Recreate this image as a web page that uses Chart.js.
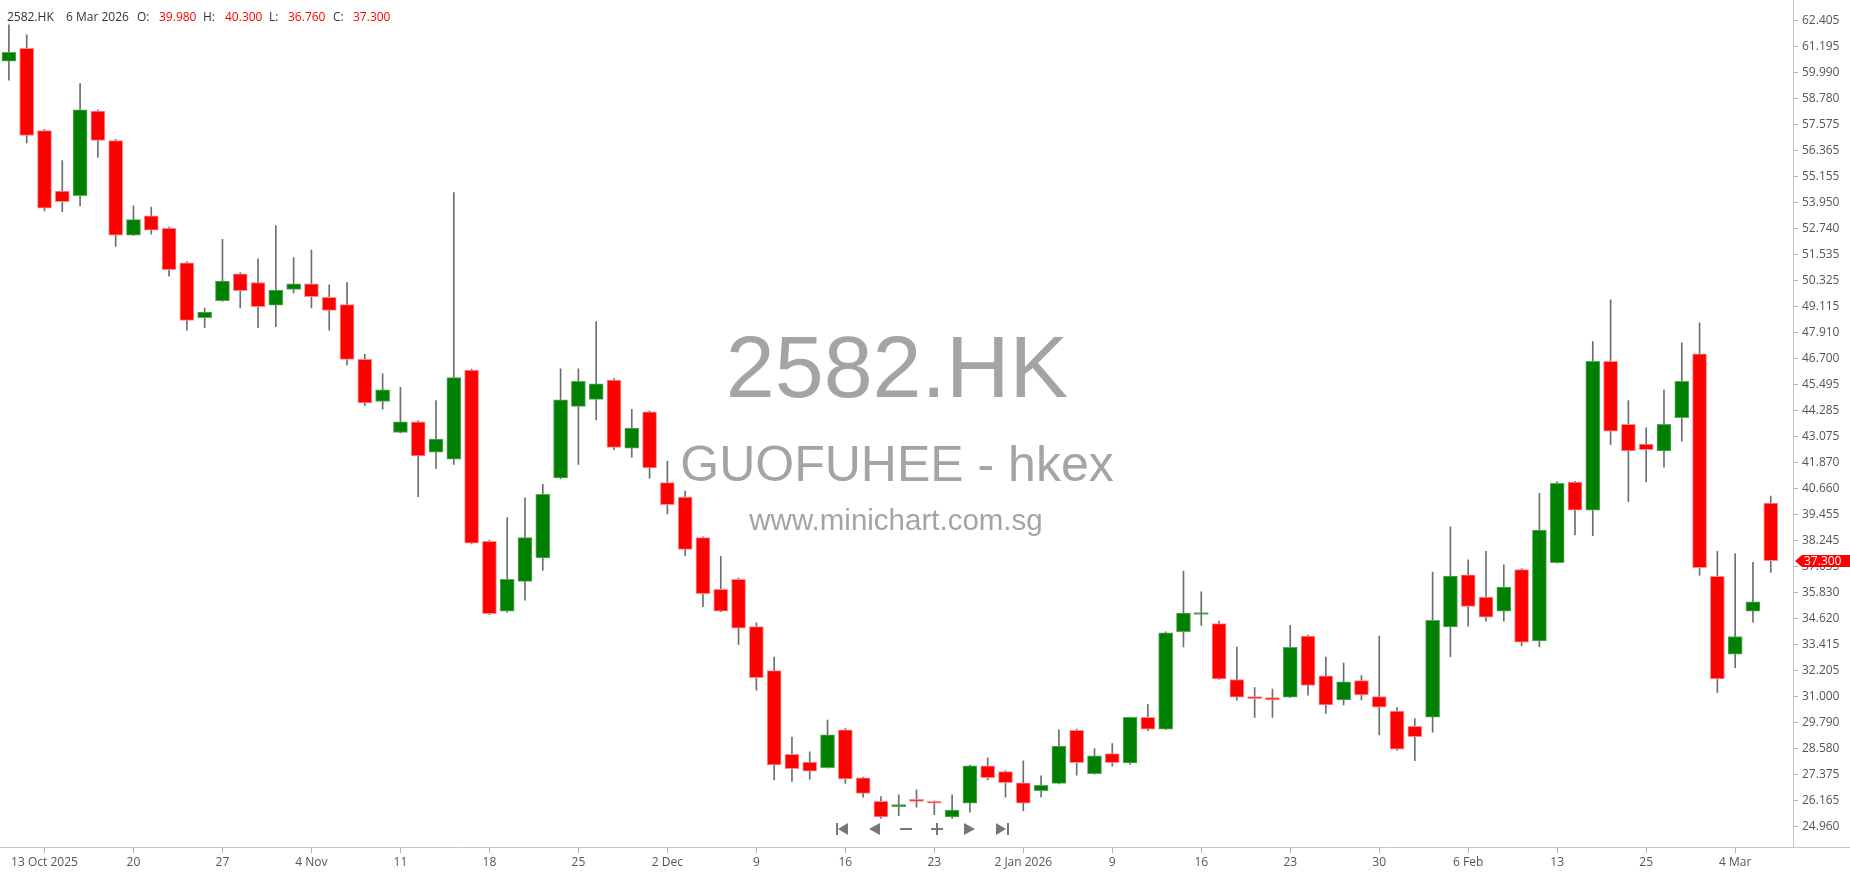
<!DOCTYPE html>
<html lang="en">
<head>
<meta charset="UTF-8">
<title>2582.HK</title>
<script src="https://cdn.jsdelivr.net/npm/chart.js"></script>
<style>
  body {
      margin: 0;
      padding: 0;
      background: #fff;
      overflow: hidden;
  }
  #wrap {
      position: relative;
      width: 1850px;
      height: 874px;
  }
</style>
</head>
<body>
<div id="wrap"><canvas id="chart" width="1850" height="874"></canvas></div>

<script>
  const symbol = "2582.HK";
  const company = "GUOFUHEE - hkex";
  const site = "www.minichart.com.sg";

  const tradeDates = [
    '2025-10-09','2025-10-10','2025-10-13','2025-10-14','2025-10-15','2025-10-16','2025-10-17','2025-10-20','2025-10-21','2025-10-22',
    '2025-10-23','2025-10-24','2025-10-27','2025-10-28','2025-10-30','2025-10-31','2025-11-03','2025-11-04','2025-11-05','2025-11-06',
    '2025-11-07','2025-11-10','2025-11-11','2025-11-12','2025-11-13','2025-11-14','2025-11-17','2025-11-18','2025-11-19','2025-11-20',
    '2025-11-21','2025-11-24','2025-11-25','2025-11-26','2025-11-27','2025-11-28','2025-12-01','2025-12-02','2025-12-03','2025-12-04',
    '2025-12-05','2025-12-08','2025-12-09','2025-12-10','2025-12-11','2025-12-12','2025-12-15','2025-12-16','2025-12-17','2025-12-18',
    '2025-12-19','2025-12-22','2025-12-23','2025-12-24','2025-12-29','2025-12-30','2025-12-31','2026-01-02','2026-01-05','2026-01-06',
    '2026-01-07','2026-01-08','2026-01-09','2026-01-12','2026-01-13','2026-01-14','2026-01-15','2026-01-16','2026-01-19','2026-01-20',
    '2026-01-21','2026-01-22','2026-01-23','2026-01-26','2026-01-27','2026-01-28','2026-01-29','2026-01-30','2026-02-02','2026-02-03',
    '2026-02-04','2026-02-05','2026-02-06','2026-02-09','2026-02-10','2026-02-11','2026-02-12','2026-02-13','2026-02-16','2026-02-20',
    '2026-02-23','2026-02-24','2026-02-25','2026-02-26','2026-02-27','2026-03-02','2026-03-03','2026-03-04','2026-03-05','2026-03-06'
  ];

  const openPrices = [
    60.51, 61.11, 57.29, 54.48, 54.26, 58.19, 56.82, 52.43, 53.33, 52.75,
    51.14, 48.59, 49.39, 50.63, 50.23, 49.17, 49.91, 50.17, 49.54, 49.20,
    46.66, 44.70, 43.26, 43.76, 42.34, 42.02, 46.16, 38.20, 34.96, 36.34,
    37.43, 41.15, 44.47, 44.80, 45.70, 42.53, 44.22, 40.93, 40.26, 38.37,
    35.97, 36.43, 34.24, 32.19, 28.30, 27.94, 27.68, 29.44, 27.21, 26.12,
    25.87, 26.20, 26.12, 25.39, 26.03, 27.77, 27.50, 26.98, 26.61, 26.95,
    29.42, 27.40, 28.34, 27.90, 30.02, 29.47, 34.00, 34.80, 34.38, 31.78,
    30.99, 30.94, 30.96, 33.80, 31.95, 30.83, 31.73, 30.99, 30.31, 29.61,
    30.03, 34.22, 36.65, 35.61, 34.96, 36.89, 33.57, 37.21, 40.95, 39.65,
    46.56, 43.64, 42.72, 42.40, 43.95, 46.91, 36.58, 32.96, 34.96, 39.98
  ];
  const highPrices = [
    62.20, 61.74, 57.35, 55.90, 59.47, 58.25, 56.88, 53.79, 53.73, 52.80,
    51.19, 49.04, 52.24, 50.69, 51.33, 52.87, 51.39, 51.73, 50.12, 50.23,
    46.89, 45.99, 45.36, 43.80, 44.74, 54.41, 46.21, 38.26, 39.30, 40.22,
    40.85, 46.22, 46.22, 48.41, 45.76, 44.33, 44.27, 41.93, 40.54, 38.41,
    37.51, 36.49, 34.41, 32.82, 29.11, 28.42, 29.90, 29.50, 27.25, 26.34,
    26.42, 26.65, 26.14, 26.42, 27.80, 28.14, 27.55, 28.00, 27.31, 29.44,
    29.48, 28.57, 28.80, 30.04, 30.63, 34.00, 36.82, 35.86, 34.49, 33.29,
    31.40, 31.34, 34.30, 33.85, 32.82, 32.54, 31.96, 33.80, 30.47, 29.96,
    36.77, 38.88, 37.34, 37.74, 37.11, 36.94, 40.43, 40.98, 40.99, 47.48,
    49.42, 44.74, 43.47, 45.24, 47.42, 48.35, 37.74, 37.63, 37.22, 40.30
  ];
  const lowPrices = [
    59.63, 56.72, 53.56, 53.52, 53.79, 56.04, 51.91, 52.40, 52.47, 50.52,
    48.01, 48.13, 49.35, 49.05, 48.13, 48.18, 49.74, 49.05, 48.01, 46.40,
    44.51, 44.34, 43.24, 40.28, 41.59, 41.78, 38.08, 34.79, 34.91, 35.47,
    36.85, 41.10, 41.78, 43.84, 42.46, 42.11, 41.14, 39.47, 37.53, 35.17,
    34.93, 33.40, 31.28, 27.11, 27.05, 27.15, 27.66, 26.95, 26.31, 25.32,
    25.45, 25.85, 25.50, 25.32, 25.62, 27.11, 26.31, 25.68, 26.31, 26.93,
    27.34, 27.38, 27.75, 27.84, 29.40, 29.45, 33.29, 34.29, 31.78, 30.82,
    30.02, 30.02, 30.94, 31.05, 30.21, 30.60, 30.83, 29.21, 28.48, 28.01,
    29.33, 32.84, 34.26, 34.49, 34.49, 33.34, 33.29, 37.19, 38.50, 38.46,
    42.69, 40.05, 40.96, 41.65, 42.86, 36.63, 31.17, 32.33, 34.44, 36.76
  ];
  const closePrices = [
    60.93, 57.06, 53.68, 53.99, 58.25, 56.83, 52.43, 53.15, 52.66, 50.82,
    48.47, 48.85, 50.29, 49.85, 49.11, 49.88, 50.17, 49.57, 48.93, 46.66,
    44.63, 45.24, 43.76, 42.17, 42.95, 45.81, 38.11, 34.84, 36.43, 38.37,
    40.38, 44.78, 45.64, 45.52, 42.57, 43.46, 41.61, 39.90, 37.83, 35.77,
    34.96, 34.17, 31.87, 27.81, 27.64, 27.52, 29.21, 27.16, 26.49, 25.39,
    25.96, 26.12, 26.03, 25.71, 27.77, 27.22, 26.99, 26.03, 26.86, 28.69,
    27.92, 28.23, 27.92, 30.02, 29.47, 33.95, 34.87, 34.82, 31.81, 30.96,
    30.89, 30.83, 33.27, 31.50, 30.60, 31.67, 31.06, 30.50, 28.54, 29.12,
    34.53, 36.59, 35.18, 34.68, 36.07, 33.52, 38.72, 40.90, 39.65, 46.56,
    43.32, 42.40, 42.46, 43.64, 45.64, 36.98, 31.81, 33.78, 35.39, 37.30
  ];

  const yTickValues = [
    62.405, 61.195, 59.990, 58.780, 57.575, 56.365, 55.155, 53.950, 52.740, 51.535,
    50.325, 49.115, 47.910, 46.700, 45.495, 44.285, 43.075, 41.870, 40.660, 39.455,
    38.245, 37.035, 35.830, 34.620, 33.415, 32.205, 31.000, 29.790, 28.580, 27.375,
    26.165, 24.960
  ];
  const xTickIndex = [2, 7, 12, 17, 22, 27, 32, 37, 42, 47, 52, 57, 62, 67, 72, 77, 82, 87, 92, 97];
  const xTickText = ['13 Oct 2025', '20', '27', '4 Nov', '11', '18', '25', '2 Dec', '9', '16',
                     '23', '2 Jan 2026', '9', '16', '23', '30', '6 Feb', '13', '25', '4 Mar'];

  const upColor = '#008000';
  const downColor = '#ff0000';
  const months = ['Jan','Feb','Mar','Apr','May','Jun','Jul','Aug','Sep','Oct','Nov','Dec'];

  function prettyDate(s) {
    const p = s.split('-');
    return parseInt(p[2]) + ' ' + months[parseInt(p[1]) - 1] + ' ' + p[0];
  }

  let bodies = [];
  let wicks = [];
  let bodyColors = [];
  let edgeColors = [];
  for (let i = 0; i < tradeDates.length; i++) {
    bodies.push({ x: i, y: [openPrices[i], closePrices[i]] });
    wicks.push({ x: i, y: [lowPrices[i], highPrices[i]] });
    if (closePrices[i] >= openPrices[i]) {
      bodyColors.push(upColor);
      edgeColors.push('#5aa85a');
    } else {
      bodyColors.push(downColor);
      edgeColors.push('#ff8c8c');
    }
  }

  // big grey text behind the candles
  const watermark = {
    id: 'watermark',
    beforeDatasetsDraw(chart) {
      const ctx = chart.ctx;
      ctx.save();
      ctx.fillStyle = '#a4a4a4';
      ctx.textAlign = 'center';
      ctx.textBaseline = 'alphabetic';
      ctx.font = '88px "Liberation Sans", Arial, sans-serif';
      ctx.fillText(symbol, 897, 397);
      ctx.font = '50px "Liberation Sans", Arial, sans-serif';
      ctx.fillText(company, 897, 481);
      ctx.font = '29.5px "Liberation Sans", Arial, sans-serif';
      ctx.fillText(site, 896, 530);
      ctx.restore();
    }
  };

  // axis lines, header, price tag and the little nav buttons
  const extras = {
    id: 'extras',
    afterDraw(chart) {
      const ctx = chart.ctx;
      const area = chart.chartArea;
      const yScale = chart.scales.y;
      const last = tradeDates.length - 1;
      ctx.save();

      ctx.strokeStyle = '#c6c6c6';
      ctx.lineWidth = 1;
      ctx.beginPath();
      ctx.moveTo(area.right + 0.5, 0);
      ctx.lineTo(area.right + 0.5, area.bottom);
      ctx.moveTo(0, area.bottom + 0.5);
      ctx.lineTo(1850, area.bottom + 0.5);
      ctx.stroke();

      // header line
      ctx.font = '12px "Open Sans", sans-serif';
      ctx.textBaseline = 'middle';
      ctx.textAlign = 'left';
      const parts = [
        [symbol, '#333', 7], [prettyDate(tradeDates[last]), '#333', 66],
        ['O:', '#333', 137], [openPrices[last].toFixed(3), downColor, 159],
        ['H:', '#333', 203], [highPrices[last].toFixed(3), downColor, 225],
        ['L:', '#333', 269], [lowPrices[last].toFixed(3), downColor, 288],
        ['C:', '#333', 333], [closePrices[last].toFixed(3), downColor, 353]
      ];
      for (let p of parts) {
        ctx.fillStyle = p[1];
        ctx.fillText(p[0], p[2], 18);
      }

      // last price tag
      const ty = Math.round(yScale.getPixelForValue(closePrices[last]));
      ctx.fillStyle = downColor;
      ctx.beginPath();
      ctx.moveTo(area.right + 2, ty);
      ctx.lineTo(area.right + 9, ty - 6);
      ctx.lineTo(1850, ty - 6);
      ctx.lineTo(1850, ty + 6);
      ctx.lineTo(area.right + 9, ty + 6);
      ctx.closePath();
      ctx.fill();
      ctx.fillStyle = '#fff';
      ctx.fillText(closePrices[last].toFixed(3), area.right + 11, ty + 0.5);

      // nav buttons
      const ny = 829;
      ctx.fillStyle = '#777';
      ctx.strokeStyle = '#777';
      ctx.lineWidth = 2;
      ctx.fillRect(836, ny - 6, 2, 12);
      tri(ctx, 848, 838, ny);
      tri(ctx, 880, 869, ny);
      ctx.fillRect(900, ny - 1, 12, 2);
      ctx.fillRect(931, ny - 1, 12, 2);
      ctx.fillRect(936, ny - 6, 2, 12);
      tri(ctx, 964, 975, ny);
      tri(ctx, 996, 1006, ny);
      ctx.fillRect(1007, ny - 6, 2, 12);

      ctx.restore();
    }
  };

  function tri(ctx, xBase, xTip, y) {
    ctx.beginPath();
    ctx.moveTo(xBase, y - 6);
    ctx.lineTo(xBase, y + 6);
    ctx.lineTo(xTip, y);
    ctx.closePath();
    ctx.fill();
  }

  Chart.defaults.font.family = '"Open Sans", sans-serif';
  Chart.defaults.font.size = 12;
  Chart.defaults.color = '#555';

  const ctx = document.getElementById('chart').getContext('2d');
  new Chart(ctx, {
    type: 'bar',
    data: {
      datasets: [
        {
          label: 'body',
          data: bodies,
          backgroundColor: bodyColors,
          borderColor: edgeColors,
          borderWidth: 1,
          borderSkipped: false,
          barThickness: 14,
          minBarLength: 2,
          grouped: false,
          order: 0
        },
        {
          label: 'wick',
          data: wicks,
          backgroundColor: '#6e6e6e',
          borderWidth: 0,
          barThickness: 1,
          grouped: false,
          order: 1
        }
      ]
    },
    options: {
      responsive: false,
      animation: false,
      events: [],
      layout: { padding: 0 },
      plugins: {
        legend: { display: false },
        tooltip: { enabled: false }
      },
      scales: {
        x: {
          type: 'linear',
          min: -0.5,
          max: 100.25,
          offset: false,
          grid: { drawOnChartArea: false, drawTicks: true, tickLength: 6, color: '#b4b4b4', offset: false },
          border: { display: false },
          afterBuildTicks: (scale) => {
            scale.ticks = xTickIndex.map(v => ({ value: v }));
          },
          afterFit: (scale) => { scale.height = 27; },
          ticks: {
            autoSkip: false,
            maxRotation: 0,
            padding: 2,
            color: '#555',
            callback: (value) => xTickText[xTickIndex.indexOf(value)]
          }
        },
        y: {
          position: 'right',
          min: 23.997,
          max: 62.836,
          grid: { drawOnChartArea: false, drawTicks: true, tickLength: 5, color: '#b4b4b4' },
          border: { display: false },
          afterBuildTicks: (scale) => {
            scale.ticks = yTickValues.map(v => ({ value: v }));
          },
          afterFit: (scale) => { scale.width = 57; },
          ticks: {
            autoSkip: false,
            padding: 4,
            color: '#555',
            callback: (value) => value.toFixed(3)
          }
        }
      }
    },
    plugins: [watermark, extras]
  });
</script>
</body>
</html>
